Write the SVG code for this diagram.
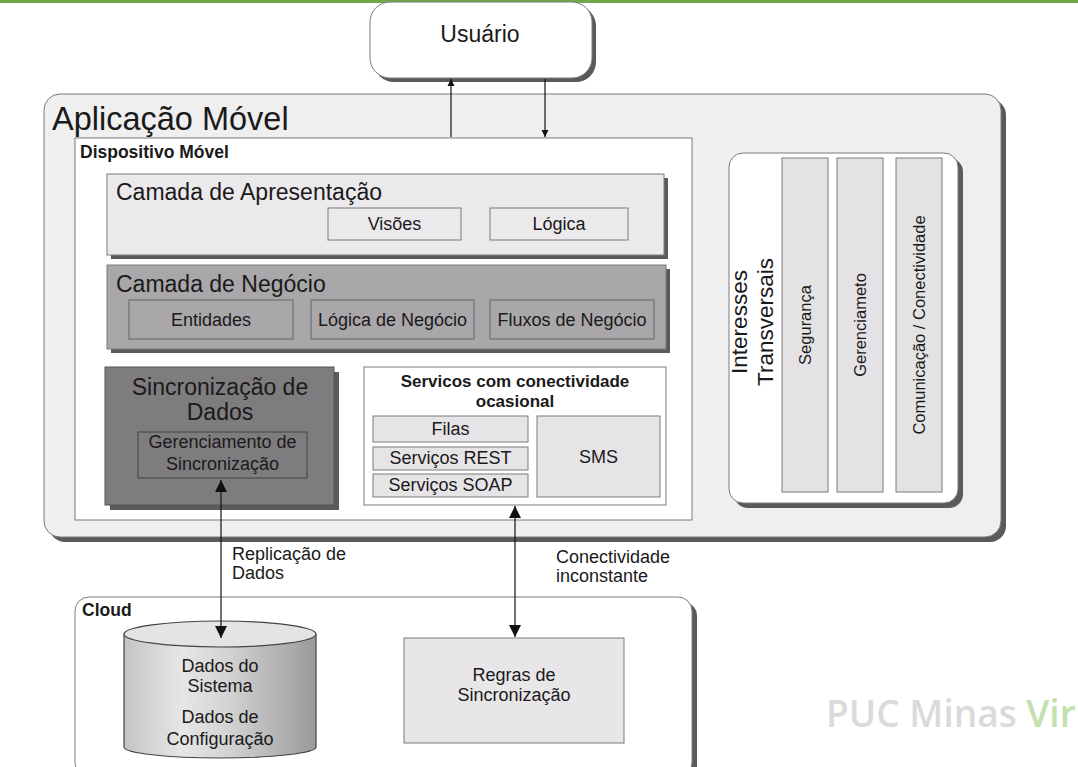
<svg xmlns="http://www.w3.org/2000/svg" width="1078" height="767" viewBox="0 0 1078 767">
<defs>
<style>
text{font-family:"Liberation Sans",Arial,sans-serif;fill:#1a1a1a}
.b{font-weight:bold}
.c{text-anchor:middle}
.sh{fill:#5a5a5a}
.box{stroke:#7a7a7a;stroke-width:1}
.line{stroke:#111;stroke-width:1.2;fill:none}
</style>
<marker id="sa" viewBox="0 0 10 10" refX="10" refY="5" markerWidth="7" markerHeight="8" markerUnits="userSpaceOnUse" orient="auto-start-reverse"><path d="M0,0 L10,5 L0,10 Z" fill="#111"/></marker>
<marker id="la" viewBox="0 0 10 10" refX="10" refY="5" markerWidth="13" markerHeight="12" markerUnits="userSpaceOnUse" orient="auto-start-reverse"><path d="M0,0 L10,5 L0,10 Z" fill="#111"/></marker>
<linearGradient id="cyl" x1="0" y1="0" x2="1" y2="0">
<stop offset="0" stop-color="#c4c4c4"/>
<stop offset="0.3" stop-color="#e6e6e6"/>
<stop offset="0.55" stop-color="#d2d2d2"/>
<stop offset="1" stop-color="#9a9a9a"/>
</linearGradient>
</defs>
<rect x="0" y="0" width="1078" height="767" fill="#ffffff"/>
<rect x="0" y="0" width="1078" height="3" fill="#6ea84a"/>

<g id="usuario">
<rect x="374" y="6" width="222" height="76" rx="20" class="sh"/>
<rect x="370" y="2" width="222" height="76" rx="20" fill="#ffffff" class="box"/>
<text x="480" y="42" class="c" font-size="23">Usuário</text>
</g>

<g id="aplicacao-movel">
<rect x="49" y="99" width="957" height="443" rx="16" class="sh"/>
<rect x="44" y="94" width="957" height="443" rx="16" fill="#f0eff0" class="box"/>
<text x="52" y="130" font-size="32.5">Aplicação Móvel</text>
</g>

<g id="dispositivo-movel">
<rect x="75" y="138" width="617" height="382" fill="#ffffff" class="box"/>
<text x="80" y="158" class="b" font-size="17.5">Dispositivo Móvel</text>
</g>

<g id="camada-apresentacao">
<rect x="111" y="178" width="557" height="81" class="sh"/>
<rect x="107" y="174" width="557" height="81" fill="#ebe9ec" class="box"/>
<text x="116" y="200" font-size="23">Camada de Apresentação</text>
<rect x="328" y="208" width="133" height="32" fill="#ebe9ec" class="box"/>
<text x="394.5" y="230" class="c" font-size="18">Visões</text>
<rect x="490" y="208" width="138" height="32" fill="#ebe9ec" class="box"/>
<text x="559" y="230" class="c" font-size="18">Lógica</text>
</g>

<g id="camada-negocio">
<rect x="111" y="269" width="559" height="84" class="sh"/>
<rect x="107" y="265" width="559" height="84" fill="#a9a7a9" class="box"/>
<text x="116" y="292" font-size="23">Camada de Negócio</text>
<rect x="129" y="300" width="164" height="39" fill="#a9a7a9" stroke="#666" stroke-width="1"/>
<text x="211" y="326" class="c" font-size="18">Entidades</text>
<rect x="311" y="300" width="163" height="39" fill="#a9a7a9" stroke="#666" stroke-width="1"/>
<text x="392.5" y="326" class="c" font-size="18">Lógica de Negócio</text>
<rect x="490" y="300" width="164" height="39" fill="#a9a7a9" stroke="#666" stroke-width="1"/>
<text x="572" y="326" class="c" font-size="18">Fluxos de Negócio</text>
</g>

<g id="sincronizacao-dados">
<rect x="110" y="372" width="229" height="138" class="sh"/>
<rect x="105" y="367" width="229" height="138" fill="#7e7c7f" stroke="#555" stroke-width="1"/>
<text x="220" y="395" class="c" font-size="23">Sincronização de</text>
<text x="220" y="420" class="c" font-size="23">Dados</text>
<rect x="138" y="432" width="169" height="46" fill="#7e7c7f" stroke="#444" stroke-width="1"/>
<text x="222.5" y="448" class="c" font-size="18">Gerenciamento de</text>
<text x="222.5" y="470" class="c" font-size="18">Sincronização</text>
</g>

<g id="servicos">
<rect x="364" y="367" width="302" height="138" fill="#ffffff" class="box"/>
<text x="515" y="387" class="c b" font-size="17">Servicos com conectividade</text>
<text x="515" y="407" class="c b" font-size="17">ocasional</text>
<rect x="373" y="416" width="155" height="26" fill="#e6e4e7" class="box"/>
<text x="450.5" y="435" class="c" font-size="18">Filas</text>
<rect x="373" y="447" width="155" height="23" fill="#e6e4e7" class="box"/>
<text x="450.5" y="464" class="c" font-size="18">Serviços REST</text>
<rect x="373" y="474" width="155" height="23" fill="#e6e4e7" class="box"/>
<text x="450.5" y="491" class="c" font-size="18">Serviços SOAP</text>
<rect x="537" y="416" width="123" height="81" fill="#e6e4e7" class="box"/>
<text x="598.5" y="463" class="c" font-size="18">SMS</text>
</g>

<g id="interesses-transversais">
<rect x="734" y="158" width="229" height="350" rx="14" class="sh"/>
<rect x="729" y="153" width="229" height="350" rx="14" fill="#ffffff" class="box"/>
<text transform="translate(747,322) rotate(-90)" class="c" font-size="22.5">Interesses</text>
<text transform="translate(773,322) rotate(-90)" class="c" font-size="22.5">Transversais</text>
<rect x="782" y="158" width="46" height="334" fill="#e4e2e5" class="box"/>
<text transform="translate(811,325) rotate(-90)" class="c" font-size="16.5">Segurança</text>
<rect x="837" y="158" width="46" height="334" fill="#e4e2e5" class="box"/>
<text transform="translate(866,325) rotate(-90)" class="c" font-size="16.5">Gerenciameto</text>
<rect x="896" y="158" width="46" height="334" fill="#e4e2e5" class="box"/>
<text transform="translate(925,325) rotate(-90)" class="c" font-size="16.5">Comunicação / Conectividade</text>
</g>

<g id="cloud">
<rect x="80" y="602" width="617" height="180" rx="14" class="sh"/>
<rect x="75" y="597" width="617" height="180" rx="14" fill="#ffffff" class="box"/>
<text x="82" y="616" class="b" font-size="17.5">Cloud</text>
</g>

<g id="dados-sistema">
<path d="M124,634 L124,747 A96,11 0 0 0 316,747 L316,634" fill="url(#cyl)" stroke="#444" stroke-width="1.2"/>
<ellipse cx="220" cy="634" rx="96" ry="13" fill="#e4e4e4" stroke="#444" stroke-width="1.2"/>
<text x="220" y="672" class="c" font-size="18">Dados do</text>
<text x="220" y="692" class="c" font-size="18">Sistema</text>
<text x="220" y="723" class="c" font-size="18">Dados de</text>
<text x="220" y="745" class="c" font-size="18">Configuração</text>
</g>

<g id="regras-sincronizacao">
<rect x="404" y="638" width="220" height="105" fill="#e8e6e9" class="box"/>
<text x="514" y="681" class="c" font-size="18">Regras de</text>
<text x="514" y="701" class="c" font-size="18">Sincronização</text>
</g>

<g id="connectors">
<line x1="451" y1="137" x2="451" y2="79" class="line" marker-end="url(#sa)"/>
<line x1="545" y1="79" x2="545" y2="137" class="line" marker-end="url(#sa)"/>
<line x1="221" y1="480" x2="221" y2="638" class="line" marker-start="url(#la)" marker-end="url(#la)"/>
<line x1="515" y1="506" x2="515" y2="637" class="line" marker-start="url(#la)" marker-end="url(#la)"/>
<text x="232" y="560" font-size="18">Replicação de</text>
<text x="232" y="579" font-size="18">Dados</text>
<text x="556" y="563" font-size="18">Conectividade</text>
<text x="556" y="582" font-size="18">inconstante</text>
</g>

<g id="watermark">
<text x="826" y="727" font-size="37" font-weight="600" style="font-family:'Open Sans','Liberation Sans',sans-serif;fill:#dcd9dc">PUC Minas <tspan style="fill:#c3e0b0">Vir</tspan></text>
</g>
</svg>
